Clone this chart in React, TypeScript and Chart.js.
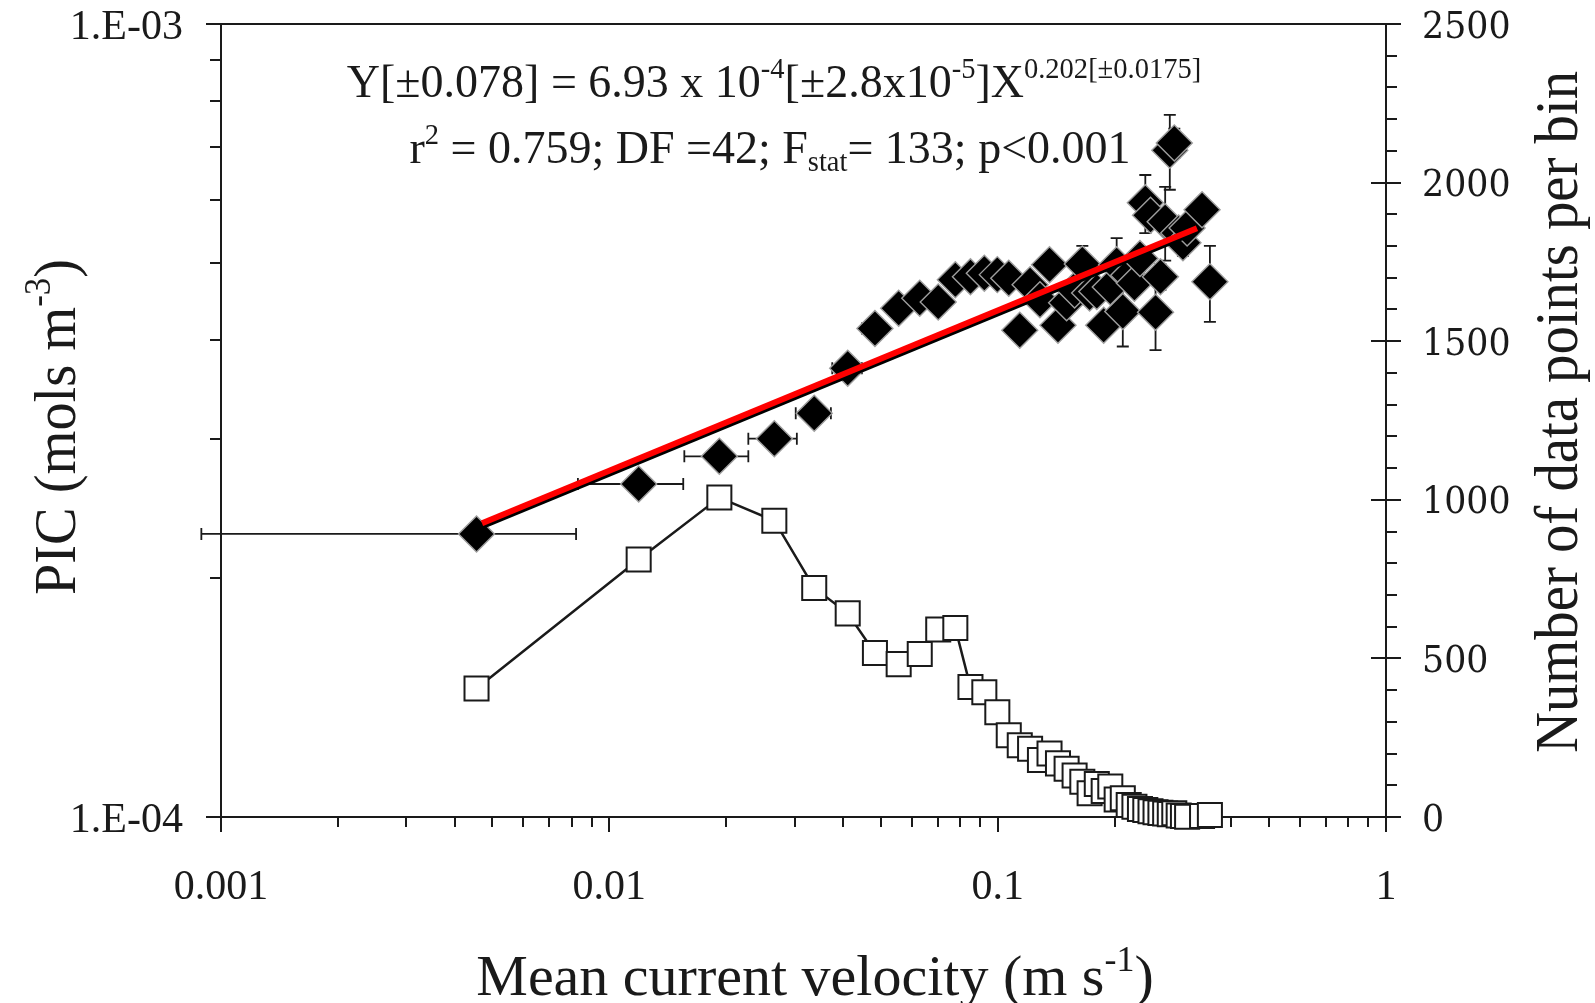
import React, { useEffect, useRef } from "react";
import { Chart, registerables } from "chart.js";

Chart.register(...registerables);

const CANVAS_W = 1595;
const CANVAS_H = 1003;

// Bin-mean current velocity (m s^-1)
const velocity = [
  0.00455, 0.0119, 0.0192, 0.0266, 0.0337, 0.0411, 0.0483, 0.0556, 0.063, 0.0703,
  0.0778, 0.0851, 0.0924, 0.0998, 0.1068, 0.114, 0.1212, 0.1285, 0.136, 0.143,
  0.1505, 0.1578, 0.1652, 0.1725, 0.18, 0.1875, 0.195, 0.2025, 0.21, 0.2175,
  0.225, 0.2325, 0.24, 0.2475, 0.255, 0.2625, 0.27, 0.2775, 0.285, 0.2925,
  0.3, 0.3075, 0.336, 0.352,
];

// Standard deviation of velocity within each bin (m s^-1)
const velocitySd = [
  0.00366, 0.0036, 0.0036, 0.0038, 0.0035, 0.0036, 0.0036, 0.0036, 0.0036, 0.0036,
  0.0036, 0.0036, 0.0036, 0.0036, 0.0036, 0.0036, 0.0036, 0.0036, 0.0036, 0.0036,
  0.0036, 0.0036, 0.0036, 0.0036, 0.0036, 0.0036, 0.0036, 0.0036, 0.0036, 0.0036,
  0.0036, 0.0036, 0.0036, 0.0036, 0.0036, 0.0036, 0.0036, 0.0036, 0.0036, 0.0036,
  0.0036, 0.0036, 0.0036, 0.0036,
];

// Mean PIC per bin (mol m^-3)
const picMean = [
  2.275e-4, 2.63e-4, 2.85e-4, 3.0e-4, 3.23e-4, 3.68e-4, 4.13e-4, 4.38e-4, 4.51e-4, 4.46e-4,
  4.76e-4, 4.8e-4, 4.85e-4, 4.83e-4, 4.78e-4, 4.11e-4, 4.69e-4, 4.49e-4, 4.97e-4, 4.17e-4,
  4.45e-4, 4.62e-4, 4.98e-4, 4.58e-4, 4.6e-4, 4.17e-4, 4.66e-4, 4.97e-4, 4.34e-4, 4.82e-4,
  4.71e-4, 5.06e-4, 5.95e-4, 5.74e-4, 4.33e-4, 4.8e-4, 5.63e-4, 6.93e-4, 7.08e-4, 5.45e-4,
  5.3e-4, 5.53e-4, 5.83e-4, 4.73e-4,
];

// Standard deviation of PIC per bin (mol m^-3)
const picSd = [
  0.05e-4, 0.05e-4, 0.05e-4, 0.05e-4, 0.05e-4, 0.06e-4, 0.06e-4, 0.06e-4, 0.06e-4, 0.06e-4,
  0.07e-4, 0.07e-4, 0.07e-4, 0.07e-4, 0.08e-4, 0.08e-4, 0.08e-4, 0.08e-4, 0.09e-4, 0.09e-4,
  0.1e-4, 0.1e-4, 0.27e-4, 0.12e-4, 0.12e-4, 0.12e-4, 0.13e-4, 0.4e-4, 0.42e-4, 0.15e-4,
  0.16e-4, 0.18e-4, 0.5e-4, 0.2e-4, 0.45e-4, 0.18e-4, 0.6e-4, 0.75e-4, 0.3e-4, 0.2e-4,
  0.2e-4, 0.2e-4, 0.2e-4, 0.52e-4,
];

// Number of observations in each velocity bin
const binCount = [
  405, 812, 1007, 934, 722, 642, 517, 482, 514, 591,
  596, 410, 393, 330, 258, 226, 215, 180, 200, 169,
  152, 131, 111, 75, 104, 82, 96, 55, 59, 38,
  32, 25, 22, 18, 15, 13, 11, 9, 12, 5,
  3, 1, 3, 6,
];

// Power-law fit Y = a * X^b
const fitCoefficient = 6.93e-4;
const fitExponent = 0.202;
const fitVelocityRange = [0.0047, 0.326];

const xTicks = [0.001, 0.01, 0.1, 1];
const xTickLabels = ["0.001", "0.01", "0.1", "1"];
const picTicks = [1e-4, 1e-3];
const picTickLabels = ["1.E-04", "1.E-03"];
const countTicks = [0, 500, 1000, 1500, 2000, 2500];
const countTickLabels = ["0", "500", "1000", "1500", "2000", "2500"];
const countMinorStep = 100;

const SERIF = '"Liberation Serif", "Times New Roman", serif';
const WIDE_SERIF = '"DejaVu Serif", serif';
const INK = "#1a1a1a";

const PIC_INDEX = 1;
const SHADOW_INDEX = 2;

type Run = { t: string; scale?: number; shift?: number };

function drawRuns(
  ctx: CanvasRenderingContext2D,
  runs: Run[],
  x: number,
  y: number,
  size: number,
  family: string,
  align: "left" | "center" | "right",
  stretch = 1
) {
  const widths = runs.map((r) => {
    ctx.font = `${size * (r.scale ?? 1)}px ${family}`;
    return ctx.measureText(r.t).width;
  });
  const total = widths.reduce((a, b) => a + b, 0);
  ctx.save();
  ctx.translate(x, y);
  ctx.scale(stretch, 1);
  let cx = align === "center" ? -total / 2 : align === "right" ? -total : 0;
  ctx.textAlign = "left";
  ctx.textBaseline = "alphabetic";
  runs.forEach((r, i) => {
    ctx.font = `${size * (r.scale ?? 1)}px ${family}`;
    ctx.fillText(r.t, cx, -(r.shift ?? 0) * size);
    cx += widths[i];
  });
  ctx.restore();
}

const frameAndTicks = {
  id: "frameAndTicks",
  beforeDatasetsDraw(chart: any) {
    const ctx: CanvasRenderingContext2D = chart.ctx;
    const { left, right, top, bottom } = chart.chartArea;
    const xs = chart.scales.x;
    const yl = chart.scales.yPic;
    const yr = chart.scales.yCount;
    ctx.save();
    ctx.strokeStyle = INK;
    ctx.lineWidth = 2;
    ctx.strokeRect(left, top, right - left, bottom - top);
    ctx.beginPath();
    xTicks.forEach((v, i) => {
      const px = Math.round(xs.getPixelForValue(v));
      ctx.moveTo(px, bottom);
      ctx.lineTo(px, bottom + 15);
      if (i < xTicks.length - 1) {
        for (let m = 2; m <= 9; m++) {
          const p = Math.round(xs.getPixelForValue(v * m));
          ctx.moveTo(p, bottom);
          ctx.lineTo(p, bottom + 10);
        }
      }
    });
    picTicks.forEach((v, i) => {
      const py = Math.round(yl.getPixelForValue(v));
      ctx.moveTo(left - 15, py);
      ctx.lineTo(left, py);
      if (i < picTicks.length - 1) {
        for (let m = 2; m <= 9; m++) {
          const p = Math.round(yl.getPixelForValue(v * m));
          ctx.moveTo(left - 11, p);
          ctx.lineTo(left, p);
        }
      }
    });
    const cMax = countTicks[countTicks.length - 1];
    for (let v = countTicks[0]; v <= cMax; v += countMinorStep) {
      const py = Math.round(yr.getPixelForValue(v));
      if (countTicks.includes(v)) {
        ctx.moveTo(right - 15, py);
        ctx.lineTo(right + 15, py);
      } else {
        ctx.moveTo(right, py);
        ctx.lineTo(right + 11, py);
      }
    }
    ctx.stroke();
    ctx.restore();
  },
};

const errorBars = {
  id: "errorBars",
  beforeDatasetDraw(chart: any, args: any) {
    if (args.index !== PIC_INDEX) return;
    const ctx: CanvasRenderingContext2D = chart.ctx;
    const xs = chart.scales.x;
    const ys = chart.scales.yPic;
    ctx.save();
    ctx.strokeStyle = INK;
    ctx.lineWidth = 1.8;
    ctx.beginPath();
    velocity.forEach((v, i) => {
      const cx = xs.getPixelForValue(v);
      const cy = ys.getPixelForValue(picMean[i]);
      const sx = velocitySd[i];
      if (sx > 0) {
        const x0 = xs.getPixelForValue(v - sx);
        const x1 = xs.getPixelForValue(v + sx);
        ctx.moveTo(x0, cy);
        ctx.lineTo(x1, cy);
        ctx.moveTo(x0, cy - 6);
        ctx.lineTo(x0, cy + 6);
        ctx.moveTo(x1, cy - 6);
        ctx.lineTo(x1, cy + 6);
      }
      const sy = picSd[i];
      if (sy > 0) {
        const y0 = ys.getPixelForValue(picMean[i] - sy);
        const y1 = ys.getPixelForValue(picMean[i] + sy);
        ctx.moveTo(cx, y0);
        ctx.lineTo(cx, y1);
        ctx.moveTo(cx - 6, y0);
        ctx.lineTo(cx + 6, y0);
        ctx.moveTo(cx - 6, y1);
        ctx.lineTo(cx + 6, y1);
      }
    });
    ctx.stroke();
    ctx.restore();
  },
};

const fitShadow = {
  id: "fitShadow",
  beforeDatasetDraw(chart: any, args: any) {
    if (args.index === SHADOW_INDEX) {
      chart.ctx.save();
      chart.ctx.translate(0, 3.5);
    }
  },
  afterDatasetDraw(chart: any, args: any) {
    if (args.index === SHADOW_INDEX) chart.ctx.restore();
  },
};

const labels = {
  id: "labels",
  afterDraw(chart: any) {
    const ctx: CanvasRenderingContext2D = chart.ctx;
    const { left, right, bottom } = chart.chartArea;
    const xs = chart.scales.x;
    const yl = chart.scales.yPic;
    const yr = chart.scales.yCount;
    ctx.save();
    ctx.fillStyle = INK;

    // tick labels
    xTicks.forEach((v, i) => {
      drawRuns(ctx, [{ t: xTickLabels[i] }], xs.getPixelForValue(v), bottom + 82, 42, SERIF, "center");
    });
    picTicks.forEach((v, i) => {
      drawRuns(ctx, [{ t: picTickLabels[i] }], left - 38, yl.getPixelForValue(v) + 15, 42, SERIF, "right");
    });
    countTicks.forEach((v, i) => {
      drawRuns(ctx, [{ t: countTickLabels[i] }], right + 36, yr.getPixelForValue(v) + 13.5, 37, WIDE_SERIF, "left", 0.94);
    });

    // axis titles
    drawRuns(
      ctx,
      [{ t: "Mean current velocity (m s" }, { t: "-1", scale: 0.62, shift: 0.42 }, { t: ")" }],
      815,
      995,
      58,
      SERIF,
      "center"
    );

    ctx.save();
    ctx.translate(75, 427);
    ctx.rotate(-Math.PI / 2);
    drawRuns(
      ctx,
      [{ t: "PIC (mols m" }, { t: "-3", scale: 0.62, shift: 0.42 }, { t: ")" }],
      0,
      0,
      60,
      SERIF,
      "center",
      0.94
    );
    ctx.restore();

    ctx.save();
    ctx.translate(1577, 412);
    ctx.rotate(-Math.PI / 2);
    drawRuns(ctx, [{ t: "Number of data points per bin" }], 0, 0, 61, SERIF, "center", 0.93);
    ctx.restore();

    // regression annotation
    drawRuns(
      ctx,
      [
        { t: "Y[±0.078] = 6.93 x 10" },
        { t: "-4", scale: 0.62, shift: 0.42 },
        { t: "[±2.8x10" },
        { t: "-5", scale: 0.62, shift: 0.42 },
        { t: "]X" },
        { t: "0.202[±0.0175]", scale: 0.62, shift: 0.42 },
      ],
      774,
      97,
      46,
      SERIF,
      "center"
    );
    drawRuns(
      ctx,
      [
        { t: "r" },
        { t: "2", scale: 0.62, shift: 0.42 },
        { t: " = 0.759; DF =42; F" },
        { t: "stat", scale: 0.62, shift: -0.18 },
        { t: "= 133; p<0.001" },
      ],
      770,
      163,
      46,
      SERIF,
      "center"
    );
    ctx.restore();
  },
};

export default function App() {
  const canvasRef = useRef<HTMLCanvasElement | null>(null);

  useEffect(() => {
    const canvas = canvasRef.current;
    if (!canvas) return;

    const countPoints = velocity.map((v, i) => ({ x: v, y: binCount[i] }));
    const picPoints = velocity.map((v, i) => ({ x: v, y: picMean[i] }));
    const fitPoints = fitVelocityRange.map((v) => ({ x: v, y: fitCoefficient * Math.pow(v, fitExponent) }));

    const chart = new Chart(canvas, {
      type: "scatter",
      data: {
        datasets: [
          {
            label: "Number of data points per bin",
            data: countPoints,
            yAxisID: "yCount",
            showLine: true,
            borderColor: INK,
            borderWidth: 2.5,
            pointStyle: "rect",
            pointRadius: 17,
            pointBackgroundColor: "#ffffff",
            pointBorderColor: INK,
            pointBorderWidth: 2,
            clip: false,
            order: 4,
          },
          {
            label: "PIC",
            data: picPoints,
            yAxisID: "yPic",
            showLine: false,
            pointStyle: "rectRot",
            pointRadius: 18,
            pointBackgroundColor: "#000000",
            pointBorderColor: "#9e9e9e",
            pointBorderWidth: 1.4,
            clip: false,
            order: 3,
          },
          {
            label: "fit shadow",
            data: fitPoints,
            yAxisID: "yPic",
            showLine: true,
            borderColor: "#000000",
            borderWidth: 5,
            pointRadius: 0,
            clip: false,
            order: 2,
          },
          {
            label: "fit",
            data: fitPoints,
            yAxisID: "yPic",
            showLine: true,
            borderColor: "#ff0000",
            borderWidth: 6,
            pointRadius: 0,
            clip: false,
            order: 1,
          },
        ],
      } as any,
      options: {
        responsive: false,
        animation: false,
        devicePixelRatio: 1,
        events: [],
        layout: { padding: { left: 221, top: 24, right: CANVAS_W - 1386, bottom: CANVAS_H - 817 } },
        plugins: { legend: { display: false }, tooltip: { enabled: false } },
        scales: {
          x: { type: "logarithmic", min: 0.001, max: 1, display: false },
          yPic: { type: "logarithmic", position: "left", min: 1e-4, max: 1e-3, display: false },
          yCount: { type: "linear", position: "right", min: 0, max: 2500, display: false },
        },
      } as any,
      plugins: [frameAndTicks, errorBars, fitShadow, labels],
    });

    return () => chart.destroy();
  }, []);

  return (
    <div
      style={{
        position: "fixed",
        left: 0,
        top: 0,
        width: CANVAS_W,
        height: CANVAS_H,
        background: "#ffffff",
        overflow: "hidden",
      }}
    >
      <canvas
        ref={canvasRef}
        width={CANVAS_W}
        height={CANVAS_H}
        style={{ display: "block", width: CANVAS_W, height: CANVAS_H }}
      />
    </div>
  );
}
